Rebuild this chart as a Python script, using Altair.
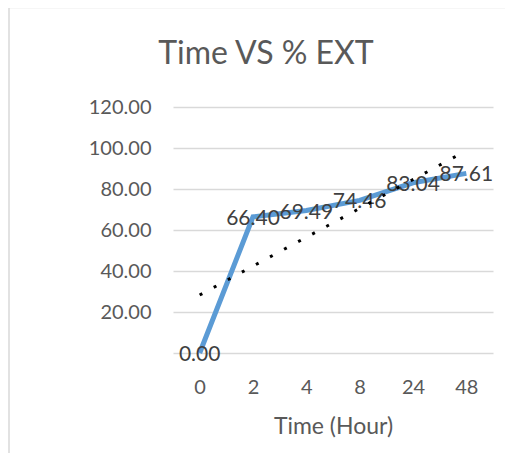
import altair as alt
import pandas as pd

hours = ["0", "2", "4", "8", "24", "48"]
ext_values = [0.00, 66.40, 69.49, 74.46, 83.04, 87.61]
y_ticks = [20, 40, 60, 80, 100, 120]
title_text = "Time VS % EXT"

df = pd.DataFrame({"idx": list(range(len(hours))), "hour": hours, "value": ext_values})
df["label"] = df["value"].map(lambda v: f"{v:.2f}")

FONT = "Lato"
label_expr = "[" + ",".join(f"'{h}'" for h in hours) + "][datum.value]"

W, H = 320, 246
PAD = {"left": 165, "top": 99, "right": 12, "bottom": 100}

x_enc = alt.X(
    "idx:Q",
    scale=alt.Scale(domain=[-0.5, len(hours) - 0.5], nice=False, zero=False),
    axis=alt.Axis(
        values=list(range(len(hours))),
        labelExpr=label_expr,
        title="Time (Hour)",
        grid=False,
        ticks=False,
        domain=True,
        domainColor="#d9d9d9",
        domainWidth=1.3,
        labelFont=FONT,
        labelFontSize=20,
        labelColor="#595959",
        labelPadding=24,
        titleFont=FONT,
        titleFontSize=23,
        titleFontWeight="normal",
        titleColor="#595959",
        titlePadding=18,
    ),
)
y_enc = alt.Y(
    "value:Q",
    scale=alt.Scale(domain=[0, 120], nice=False),
    axis=alt.Axis(
        values=y_ticks,
        format=".2f",
        title=None,
        domain=False,
        ticks=False,
        grid=True,
        gridColor="#d9d9d9",
        gridWidth=1.3,
        labelFont=FONT,
        labelFontSize=20,
        labelColor="#595959",
        labelPadding=22,
    ),
)

base = alt.Chart(df)

line = base.mark_line(color="#5B9BD5", strokeWidth=5, strokeCap="butt").encode(x=x_enc, y=y_enc)

labels = base.mark_text(
    font=FONT, fontSize=21, color="#404040", align="center", baseline="middle", dy=2
).encode(x="idx:Q", y="value:Q", text="label:N")

trend = (
    base.transform_regression("idx", "value", method="linear")
    .mark_line(color="black", strokeWidth=3, strokeDash=[3, 13], strokeCap="butt")
    .encode(x="idx:Q", y="value:Q")
)

title_df = pd.DataFrame({"t": [title_text]})
title = alt.Chart(title_df).mark_text(
    font=FONT, fontSize=32, color="#595959", align="center", baseline="alphabetic"
).encode(x=alt.value(93), y=alt.value(-43), text="t:N")

border_df = pd.DataFrame({"b": [0]})
left_border = alt.Chart(border_df).mark_rule(color="#d9d9d9", strokeWidth=1.5).encode(
    x=alt.value(-164), y=alt.value(-99.5), y2=alt.value(H + PAD["bottom"])
)
top_border = alt.Chart(border_df).mark_rule(color="#d9d9d9", strokeWidth=1.5).encode(
    x=alt.value(-164), x2=alt.value(W + PAD["right"]), y=alt.value(-99.5)
)

chart = (
    alt.layer(left_border, top_border, line, labels, trend, title)
    .properties(
        width=W,
        height=H,
        autosize=alt.AutoSizeParams(type="none"),
        padding=PAD,
        background="white",
    )
    .configure_view(stroke=None)
)

chart.save("out.html", embed_options={"renderer": "svg", "actions": False})
